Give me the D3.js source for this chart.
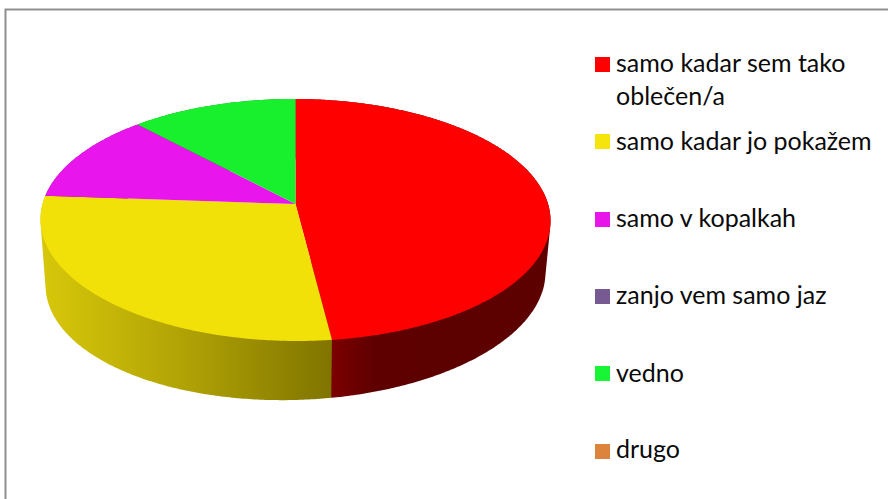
<!DOCTYPE html>
<html>
<head>
<meta charset="utf-8">
<script src="https://cdn.jsdelivr.net/npm/d3@7"></script>
<style>
html,body{margin:0;padding:0;background:#fff;overflow:hidden}
svg{display:block}
text{font-family:Lato,"Open Sans",sans-serif;fill:#0a0a0a}
</style>
</head>
<body>
<svg id="c" width="888" height="499"></svg>
<script>
const categories = ["samo kadar sem tako oble\u010den/a","samo kadar jo poka\u017eem","samo v kopalkah","zanjo vem samo jaz","vedno","drugo"];
const labelLines = [["samo kadar sem tako","oble\u010den/a"],["samo kadar jo poka\u017eem"],["samo v kopalkah"],["zanjo vem samo jaz"],["vedno"],["drugo"]];
const values = [12,7,3,0,3,0];
const topColors = ["#ff0000","#f2e109","#e815ec","#775a92","#18f02e","#dd843c"];
const legendColors = ["#fe0000","#f5e50d","#e815ea","#775a92","#17f535","#dd843c"];
const wallStops = {
  0:[[0,"#5c0000"],[0.8,"#5e0000"],[1,"#7c0000"]],
  1:[[0,"#d8c80a"],[0.5,"#b0a205"],[1,"#807400"]]
};
const wallOrder = [4,2,0,1];

const svg = d3.select("#c");
svg.append("path").attr("d","M5.5 499V9.5H888").attr("fill","none").attr("stroke","#8f8f8f").attr("stroke-width",2);

// perspective pie projection
const cx=295.5, cy=204, a=252.8, b=118.9, k=0.132, depth=59, shrink=0.98, topTilt=0.003, lowTilt=0.025;
function project(t, low){
  const w = 1 + k*Math.cos(t);
  const x = a*Math.sin(t)/w, y = -b*Math.cos(t)/w;
  return low ? [cx + x*shrink, cy + y + depth - lowTilt*x] : [cx + x, cy + y + topTilt*x];
}
function arcPts(s,e,low){
  const n = Math.max(2, Math.ceil(Math.abs(e-s)/0.01));
  return d3.range(n+1).map(i=>project(s+(e-s)*i/n,low));
}
const line = d3.line();
const arcs = d3.pie().sort(null)(values);

const defs = svg.append("defs");
function wallFill(i){
  if(!wallStops[i]) return d3.color(topColors[i]).darker(1.5);
  const g = defs.append("linearGradient").attr("id","w"+i)
    .attr("gradientUnits","userSpaceOnUse")
    .attr("x1", i===0 ? 549 : 40).attr("x2", 332).attr("y1",0).attr("y2",0);
  wallStops[i].forEach(s=>g.append("stop").attr("offset",s[0]).attr("stop-color",s[1]));
  return "url(#w"+i+")";
}

// walls: the outline of each extruded slice
wallOrder.map(i=>arcs[i]).forEach(d=>{
  const hull = d3.polygonHull(arcPts(d.startAngle,d.endAngle,false).concat(arcPts(d.startAngle,d.endAngle,true)));
  svg.append("path").attr("d",line(hull)+"Z").attr("fill",wallFill(d.index));
});
// top faces
arcs.filter(d=>d.value>0).forEach(d=>{
  const pts = [[cx,cy]].concat(arcPts(d.startAngle,d.endAngle,false));
  svg.append("path").attr("d",line(pts)+"Z").attr("fill",topColors[d.index]);
});

// legend
const swatchY = [57,134,212,289,366,444];
const baseY = [72,150,227,304,382,458];
const fs = 25;
categories.forEach((c,i)=>{
  svg.append("rect").attr("x",595).attr("y",swatchY[i]).attr("width",15).attr("height",15).attr("fill",legendColors[i]);
  labelLines[i].forEach((t,j)=>{
    svg.append("text").attr("x",616).attr("y",baseY[i]+j*33).attr("font-size",fs).text(t);
  });
});
</script>
</body>
</html>
